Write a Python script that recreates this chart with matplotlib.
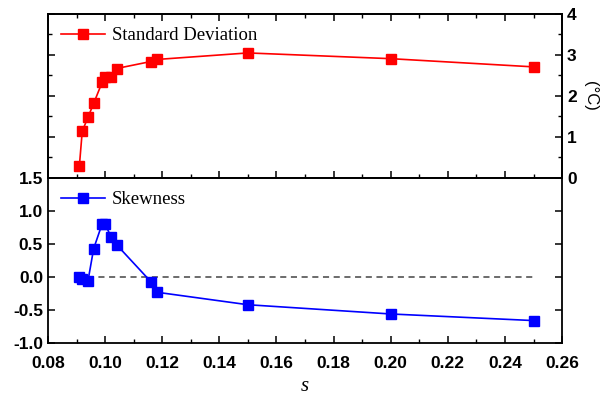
import matplotlib.pyplot as plt
from matplotlib.ticker import MultipleLocator, NullFormatter

s = [0.091, 0.092, 0.094, 0.096, 0.099, 0.100, 0.102, 0.104, 0.116, 0.118, 0.150, 0.200, 0.250]
std_dev = [0.30, 1.14, 1.48, 1.82, 2.34, 2.47, 2.47, 2.67, 2.84, 2.89, 3.05, 2.91, 2.71]
skewness = [0.00, -0.03, -0.06, 0.43, 0.81, 0.81, 0.61, 0.49, -0.07, -0.23, -0.42, -0.56, -0.66]

plt.rcParams['font.family'] = 'Liberation Sans'
plt.rcParams['font.weight'] = 'bold'
plt.rcParams['axes.linewidth'] = 1.3
plt.rcParams['xtick.direction'] = 'in'
plt.rcParams['ytick.direction'] = 'in'

fig = plt.figure(figsize=(6.15, 3.95), dpi=100)
ax1 = fig.add_axes([0.078, 0.5494, 0.836, 0.4152])
ax2 = fig.add_axes([0.078, 0.1316, 0.836, 0.4178], sharex=ax1)

serif = 'Liberation Serif'
legend_font = {'family': serif, 'size': 13.5, 'weight': 'normal'}

# upper panel: standard deviation
ax1.plot(s, std_dev, color='#ff0000', marker='s', markersize=7, lw=1.2,
         label='Standard Deviation')
ax1.set_ylim(0, 4)
ax1.yaxis.set_major_locator(MultipleLocator(1))
ax1.yaxis.set_minor_locator(MultipleLocator(0.5))
ax1.yaxis.set_major_formatter(NullFormatter())
ax1.tick_params(axis='y', which='both', left=True, right=True, labelleft=False)
ax1.tick_params(axis='x', which='both', top=True, bottom=True, labelbottom=False)

ax1r = ax1.twinx()
ax1r.set_ylim(0, 4)
ax1r.yaxis.set_major_locator(MultipleLocator(1))
ax1r.yaxis.set_minor_locator(MultipleLocator(0.5))
ax1r.tick_params(axis='y', which='major', labelsize=12.5, length=5, width=1.1, direction='in')
ax1r.tick_params(axis='y', which='minor', length=3, width=1.0, direction='in')
ax1r.set_ylabel('(°C)', rotation=-90, labelpad=15, fontsize=12, fontweight='normal')

ax1.legend(loc='upper left', frameon=False, handlelength=2.35,
           prop=legend_font, borderaxespad=0.3, handletextpad=0.35)

# lower panel: skewness
ax2.axhline(0, xmin=(0.09 - 0.08) / 0.18, xmax=(0.25 - 0.08) / 0.18,
            color='#444444', ls=(0, (4, 3)), lw=1.1)
ax2.plot(s, skewness, color='#0000ff', marker='s', markersize=7, lw=1.2,
         label='Skewness')
ax2.set_ylim(-1.0, 1.5)
ax2.yaxis.set_major_locator(MultipleLocator(0.5))
ax2.yaxis.set_major_formatter(plt.FuncFormatter(lambda v, p: f'{v:.1f}'))
ax2.tick_params(axis='y', which='both', left=True, right=True, labelsize=12.5)
ax2.tick_params(axis='x', which='both', top=False, bottom=True, labelsize=12.5, pad=9)
ax2.set_xlim(0.08, 0.26)
ax2.xaxis.set_major_locator(MultipleLocator(0.02))
ax2.xaxis.set_minor_locator(MultipleLocator(0.01))
ax2.xaxis.set_major_formatter(plt.FuncFormatter(lambda v, p: f'{v:.2f}'))
ax2.set_xlabel('s', fontstyle='italic', family=serif, fontsize=15,
               fontweight='normal', labelpad=5)

ax2.legend(loc='upper left', frameon=False, handlelength=2.35,
           prop=legend_font, borderaxespad=0.3, handletextpad=0.35)

for ax in (ax1, ax2):
    ax.tick_params(which='major', length=5, width=1.1)
    ax.tick_params(which='minor', length=3, width=1.0)

fig.savefig('out.png', dpi=100)
